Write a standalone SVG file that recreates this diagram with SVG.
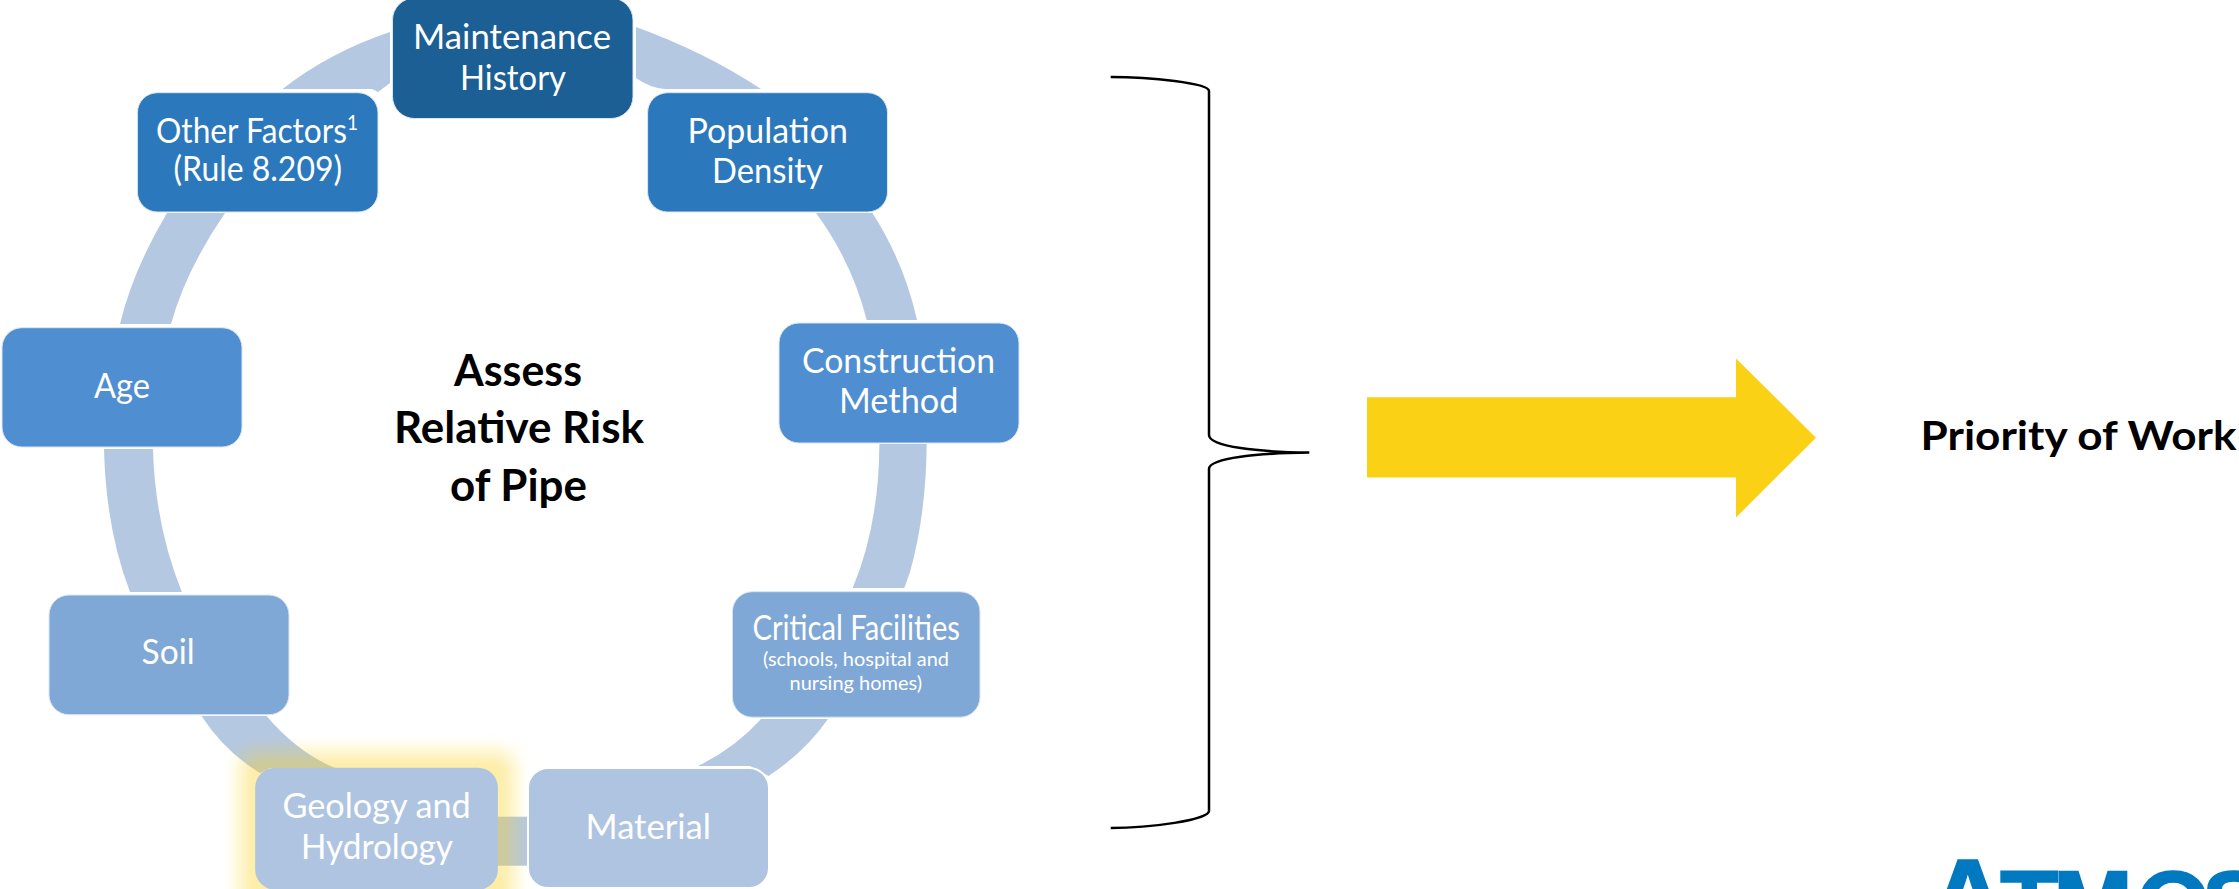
<svg xmlns="http://www.w3.org/2000/svg" width="2239" height="889" viewBox="0 0 2239 889">
<style>
.t{font-family:Lato,"Liberation Sans",sans-serif;font-size:35px;fill:#fff;text-anchor:start}
.s{font-size:21px;baseline-shift:13px}
.m{font-size:20px}
.b{font-family:Lato,"Liberation Sans",sans-serif;font-size:44px;font-weight:700;fill:#000}
.r{stroke:#dbe6f3;stroke-width:1}
.a{fill:#b5c8e2}
</style>
<defs>
<filter id="glow" x="-20%" y="-20%" width="140%" height="140%"><feGaussianBlur stdDeviation="9"/></filter>
</defs>
<rect width="2239" height="889" fill="#fff"/>
<g id="connectors">
<path class="a" d="M636 27Q705 52 761 89L665 89Q650 88 636 78Z"/>
<path class="a" d="M282.500 89Q330 52 390 32L390 83L378 92L372 89Z"/>
<path class="a" d="M872.400 213Q904 262 917 320L866.700 320Q852 262 816 213Z"/>
<path class="a" d="M879.400 444L926.700 444Q926 515 910 572L904.300 588L852.700 588Q879 525 879.400 444Z"/>
<path class="a" d="M761 719Q735 748 698 766L750 766L768.500 776Q805 752 828 719Z"/>
<rect class="a" x="497" y="816.700" width="32" height="49"/>
<path class="a" d="M201.500 716Q225 752 260 773L270 768L335 768Q297 752 266.600 716Z"/>
<path class="a" d="M104 449Q106 530 130 592L181.800 592Q155 525 153 449Z"/>
<path class="a" d="M167 213Q133 270 120 324L171 324Q186 270 225 213Z"/>
</g>
<rect id="glow-shape" x="240" y="752" width="274" height="162" rx="14" fill="#fbd116" fill-opacity=".39" filter="url(#glow)"/>
<g id="maintenance"><rect class="r" x="392.500" y="-2" width="240.500" height="120.500" rx="22" fill="#1b5f94"/>
<text class="t" x="413" y="49" textLength="198" lengthAdjust="spacingAndGlyphs">Maintenance</text>
<text class="t" x="460" y="90" textLength="106" lengthAdjust="spacingAndGlyphs">History</text></g>
<g id="other-factors"><rect class="r" x="137.400" y="92.700" width="240.600" height="119.300" rx="20" fill="#2b78bc"/>
<text class="t" x="156" y="143" textLength="202" lengthAdjust="spacingAndGlyphs">Other Factors<tspan class="s">1</tspan></text>
<text class="t" x="173.500" y="181" textLength="168.500" lengthAdjust="spacingAndGlyphs">(Rule 8.209)</text></g>
<g id="population-density"><rect class="r" x="647.600" y="92.700" width="239.900" height="119.300" rx="20" fill="#2b78bc"/>
<text class="t" x="687.500" y="143" textLength="160.500" lengthAdjust="spacingAndGlyphs">Population</text>
<text class="t" x="712" y="183" textLength="111" lengthAdjust="spacingAndGlyphs">Density</text></g>
<g id="age"><rect class="r" x="2" y="327.700" width="240" height="119.300" rx="20" fill="#4f8ed0"/>
<text class="t" x="94" y="398" textLength="56" lengthAdjust="spacingAndGlyphs">Age</text></g>
<g id="construction-method"><rect class="r" x="779" y="323" width="240" height="120" rx="20" fill="#4f8ed0"/>
<text class="t" x="802" y="373" textLength="193" lengthAdjust="spacingAndGlyphs">Construction</text>
<text class="t" x="839" y="413" textLength="119.500" lengthAdjust="spacingAndGlyphs">Method</text></g>
<g id="soil"><rect class="r" x="49" y="595" width="240" height="119.700" rx="20" fill="#80a8d6"/>
<text class="t" x="141.600" y="664" textLength="53" lengthAdjust="spacingAndGlyphs">Soil</text></g>
<g id="critical-facilities"><rect class="r" x="732.400" y="591.700" width="247.600" height="125.500" rx="20" fill="#80a8d6"/>
<text class="t" x="752.500" y="640" textLength="207.500" lengthAdjust="spacingAndGlyphs">Critical Facilities</text>
<text class="t m" x="763" y="666" textLength="186" lengthAdjust="spacingAndGlyphs">(schools, hospital and</text>
<text class="t m" x="789.500" y="690" textLength="132.500" lengthAdjust="spacingAndGlyphs">nursing homes)</text></g>
<g id="geology-hydrology"><rect x="255.200" y="767.700" width="242.700" height="122" rx="20" fill="#afc4e1"/>
<text class="t" x="282.500" y="818" textLength="188.200" lengthAdjust="spacingAndGlyphs">Geology and</text>
<text class="t" x="301" y="859" textLength="152" lengthAdjust="spacingAndGlyphs">Hydrology</text></g>
<g id="material"><rect x="528" y="768" width="241" height="120" rx="20" fill="#afc4e1" stroke="#fff" stroke-width="2"/>
<text class="t" x="585.500" y="839" textLength="125.500" lengthAdjust="spacingAndGlyphs">Material</text></g>
<g id="center-label">
<text class="b" x="454" y="386" textLength="128" lengthAdjust="spacingAndGlyphs">Assess</text>
<text class="b" x="394" y="443" textLength="250" lengthAdjust="spacingAndGlyphs">Relative Risk</text>
<text class="b" x="450" y="501" textLength="137" lengthAdjust="spacingAndGlyphs">of Pipe</text></g>
<path id="brace" d="M1110.700 77C1150 77 1209 83 1209 91L1209 435C1209 447 1260 452 1309.300 452.600C1260 453 1209 458 1209 469L1209 811C1209 820 1150 828 1110.700 828" fill="none" stroke="#000" stroke-width="2.500"/>
<path id="big-arrow" d="M1367 397.300H1736V358.400L1816 437.700L1736 517.500V477.500H1367Z" fill="#fbd116"/>
<text id="priority" class="b" x="1920.500" y="450" textLength="316" lengthAdjust="spacingAndGlyphs" style="font-size:41px">Priority of Work</text>
<text id="logo" x="1927 2000 2053 2136 2202" y="938" font-family="'Liberation Sans',sans-serif" font-weight="700" font-size="96" fill="#0079c1" stroke="#0079c1" stroke-width="1.500"><tspan font-size="113">A</tspan>TMOS</text>
</svg>
